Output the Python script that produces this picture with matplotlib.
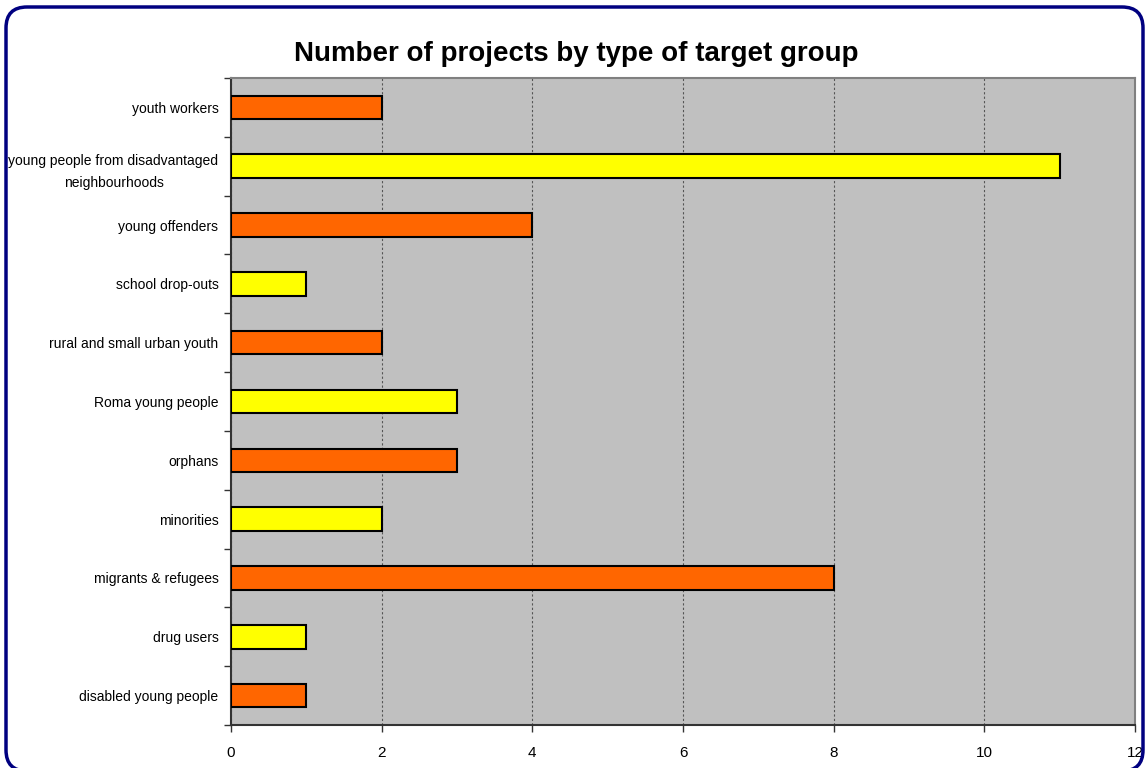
import matplotlib
matplotlib.use("Agg")
import matplotlib.pyplot as plt
from matplotlib.patches import FancyBboxPatch
from matplotlib.transforms import IdentityTransform

categories = [
    "youth workers",
    "young people from disadvantaged\nneighbourhoods",
    "young offenders",
    "school drop-outs",
    "rural and small urban youth",
    "Roma young people",
    "orphans",
    "minorities",
    "migrants & refugees",
    "drug users",
    "disabled young people",
]
values = [2, 11, 4, 1, 2, 3, 3, 2, 8, 1, 1]
bar_colors = ["#FF6600", "#FFFF00"]
x_ticks = [0, 2, 4, 6, 8, 10, 12]

plt.rcParams["font.family"] = ["Liberation Sans", "DejaVu Sans"]

W, H = 1148, 768
fig = plt.figure(figsize=(W / 100, H / 100), dpi=100)

# rounded outer frame (pixel coordinates); its bottom edge runs just past the canvas
frame = FancyBboxPatch((6, -3), 1137, 764,
                       boxstyle="round,pad=0,rounding_size=21",
                       transform=IdentityTransform(), fill=False,
                       edgecolor="#000080", linewidth=2.5)
fig.patches.append(frame)

ax = fig.add_axes([231 / W, 1 - 725 / H, 904 / W, 647 / H])
ax.set_facecolor("#C0C0C0")

n = len(categories)
ypos = list(range(n))
colors = [bar_colors[i % 2] for i in range(n)]
ax.barh(ypos, values, height=0.4, color=colors, edgecolor="black", linewidth=1.5, zorder=3)

ax.set_ylim(n - 0.5, -0.5)
ax.set_xlim(0, 12)
ax.set_xticks(x_ticks)
ax.set_xticklabels([str(t) for t in x_ticks], fontsize=11)
ax.xaxis.grid(True, linestyle=(0, (2, 2)), color="#555555", linewidth=0.8, zorder=1)

ax.set_yticks(ypos)
ax.set_yticklabels(categories, fontsize=10, linespacing=1.75, ha="right")
for lbl in ax.get_yticklabels():
    lbl.set_multialignment("center")
ax.tick_params(axis="y", length=0, pad=9)
ax.set_yticks([i - 0.5 for i in range(n + 1)], minor=True)
ax.tick_params(axis="y", which="minor", length=5, width=1, color="#333333", direction="out")
ax.tick_params(axis="x", length=5, width=1, color="#333333", direction="out", pad=10)

for s in ["left", "bottom"]:
    ax.spines[s].set_color("#333333")
    ax.spines[s].set_linewidth(1.5)
for s in ["top", "right"]:
    ax.spines[s].set_color("#808080")
    ax.spines[s].set_linewidth(1.5)

fig.text(576 / W, 1 - 54 / H, "Number of projects by type of target group",
         ha="center", va="center", fontsize=20, fontweight="bold")

fig.savefig("out.png", dpi=100)
